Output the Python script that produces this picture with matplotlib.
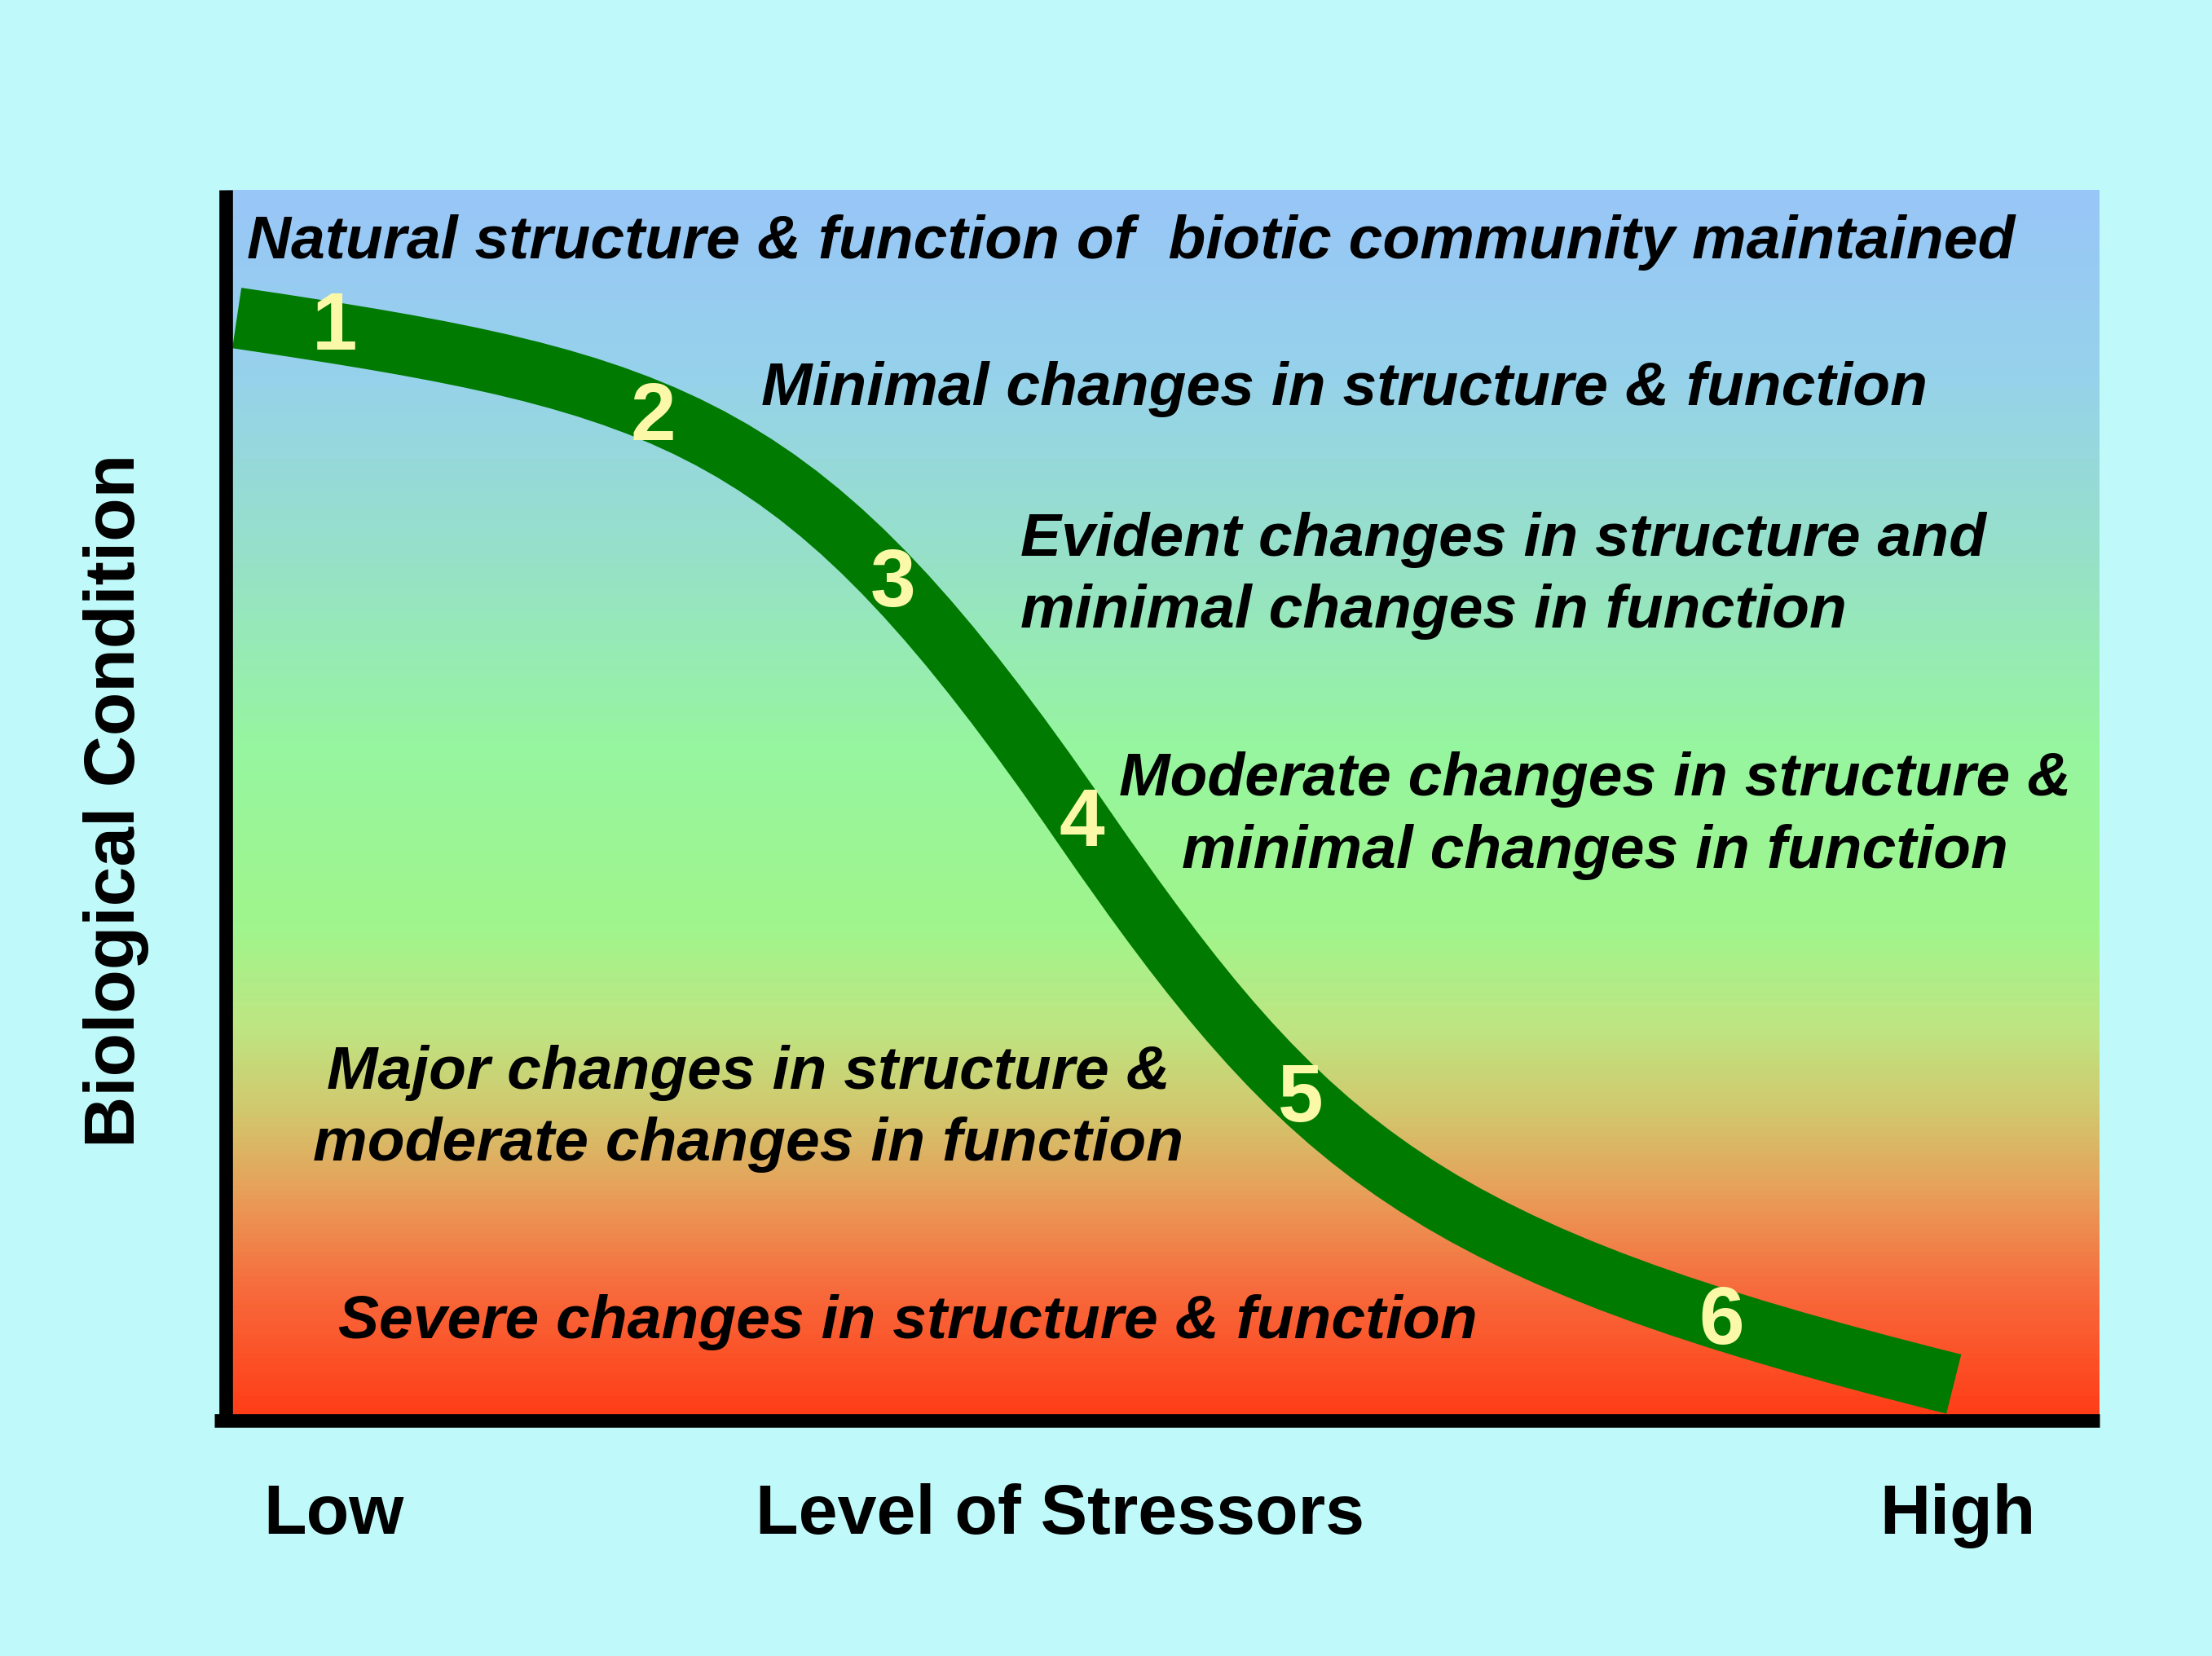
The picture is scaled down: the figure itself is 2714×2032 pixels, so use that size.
import numpy as np
import matplotlib.pyplot as plt
from matplotlib.path import Path
from matplotlib.patches import PathPatch
from matplotlib.colors import LinearSegmentedColormap

# green band: anchor / bezier control points (0-100 scale)
# x: level of stressors, y: biological condition
band_x = [0.60, 24.22, 30.90, 45.71, 57.88, 64.05, 92.24]
band_y = [89.58, 84.26, 81.21, 48.45, 21.60, 13.70, 2.98]
band_codes = [Path.MOVETO, Path.CURVE4, Path.CURVE4, Path.CURVE4,
              Path.CURVE4, Path.CURVE4, Path.CURVE4]

# tier numbers sitting on the band
tiers = ['1', '2', '3', '4', '5', '6']
tier_x = [5.80, 22.82, 35.62, 45.71, 57.38, 79.82]
tier_y = [88.77, 81.44, 67.93, 48.45, 26.12, 8.02]

tier_text = [
    'Natural structure & function of  biotic community maintained',
    'Minimal changes in structure & function',
    'Evident changes in structure and\nminimal changes in function',
    'Moderate changes in structure &\nminimal changes in function',
    'Major changes in structure &\nmoderate changes in function',
    'Severe changes in structure & function',
]
text_x = [1.13, 28.6, 42.4, 73.1, 27.9, 6.0]
text_y = [94.5, 82.6, 64.5, 45.0, 21.2, 6.75]   # baseline of last line
text_ha = ['left', 'left', 'left', 'center', 'center', 'left']

x_ticks = ['Low', 'High']
x_label = 'Level of Stressors'
y_label = 'Biological Condition'

bg = '#c0f9f9'
band = '#007a00'
num_col = '#fbf9a8'

plt.rcParams['font.family'] = ['Liberation Sans', 'DejaVu Sans']

fig = plt.figure(figsize=(27.14, 20.33), dpi=100, facecolor=bg)
ax = fig.add_axes([0.102, 0.142, 0.847, 0.743])
ax.set_xlim(0, 100)
ax.set_ylim(0, 100)

# background gradient, top blue -> green -> orange -> red
grad = LinearSegmentedColormap.from_list('bio', [
    (0.0, '#99c6f8'), (0.15, '#96d2eb'), (0.3, '#96e1c8'), (0.45, '#96f5a0'),
    (0.6, '#a0f58c'), (0.68, '#bee682'), (0.75, '#d2c86e'), (0.82, '#e99c58'),
    (0.9, '#f8683a'), (1.0, '#ff3c16')])
ax.imshow(np.linspace(0, 1, 256).reshape(-1, 1), cmap=grad, aspect='auto',
          extent=[0, 100, 0, 100], zorder=0)

path = Path(np.column_stack([band_x, band_y]), band_codes)
ax.add_patch(PathPatch(path, fill=False, edgecolor=band, lw=54, capstyle='butt',
                       joinstyle='round', zorder=2))

for t, x, y in zip(tiers, tier_x, tier_y):
    ax.text(x, y, t, color=num_col, fontsize=72, fontweight='bold',
            ha='center', va='center', zorder=3)

for s, x, y, ha in zip(tier_text, text_x, text_y, text_ha):
    ax.text(x, y, s, fontsize=54, fontweight='bold', fontstyle='italic', ha=ha,
            va='baseline', multialignment='left' if ha == 'left' else 'center',
            linespacing=1.36, zorder=3)

for s in ['top', 'right']:
    ax.spines[s].set_visible(False)
for s in ['left', 'bottom']:
    ax.spines[s].set_linewidth(12)
    ax.spines[s].set_color('black')
    ax.spines[s].set_capstyle('butt')
    ax.spines[s].set_zorder(4)
ax.spines['bottom'].set_bounds(-0.6, 100)
ax.set_xticks([])
ax.set_yticks([])

fig.text(0.151, 0.085, x_ticks[0], fontsize=62, fontweight='bold', ha='center', va='center')
fig.text(0.885, 0.085, x_ticks[1], fontsize=62, fontweight='bold', ha='center', va='center')
fig.text(0.479, 0.085, x_label, fontsize=62, fontweight='bold', ha='center', va='center')
fig.text(0.0525, 0.517, y_label, fontsize=63, fontweight='bold', ha='center', va='center',
         rotation=90)

fig.savefig('out.png', dpi=100, facecolor=bg)
